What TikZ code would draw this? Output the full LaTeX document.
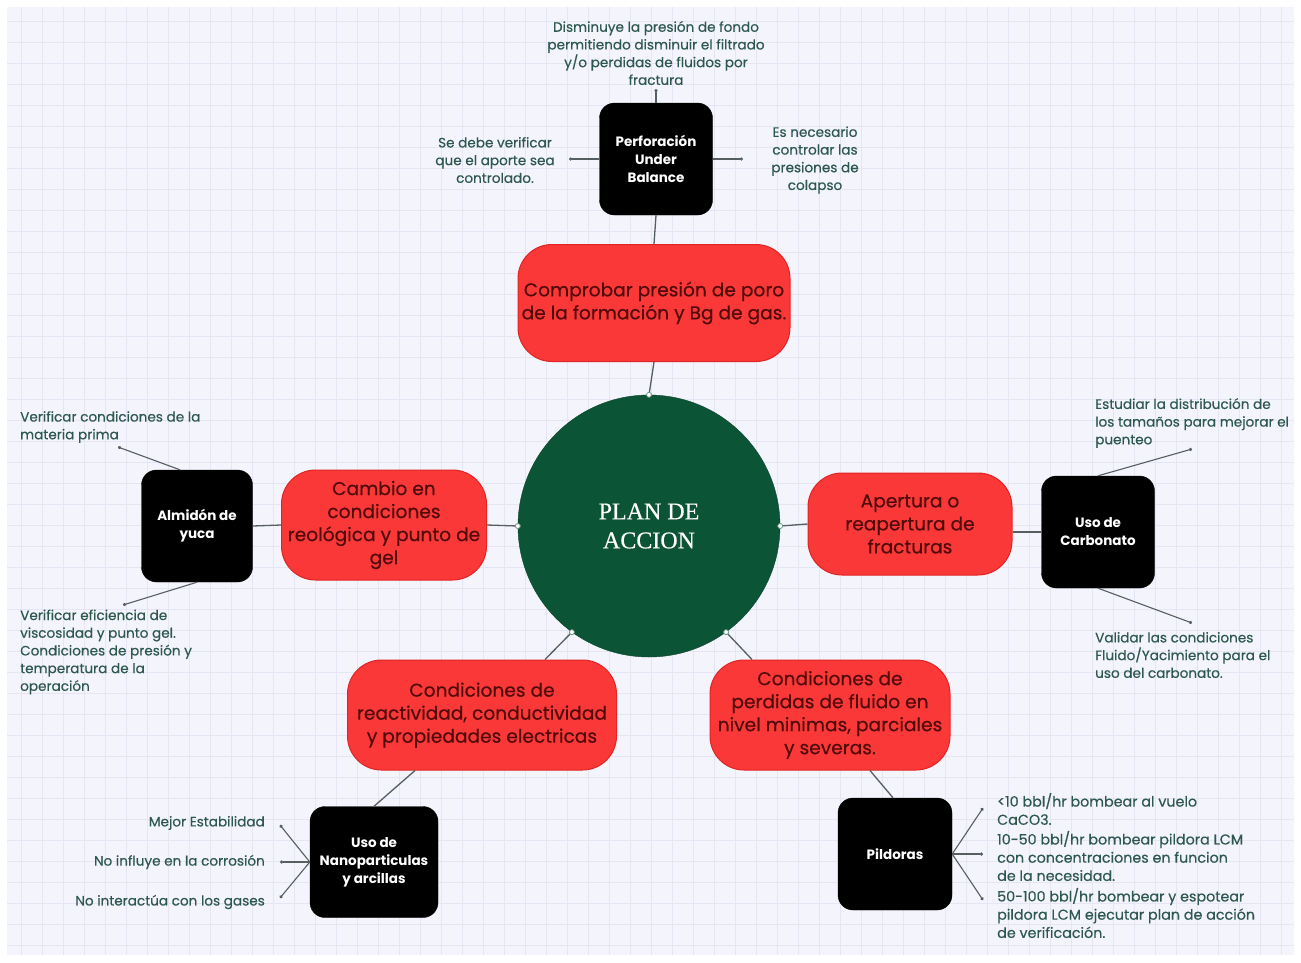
\documentclass[tikz,border=0pt]{standalone}
\usepackage{fontspec}
\setmainfont{Poppins}
\newfontfamily\medfont{Poppins}[FakeBold=0.35]
\newfontfamily\titlefont{Liberation Serif}[FakeBold=0.4]
\usetikzlibrary{arrows.meta}

\definecolor{paper}{RGB}{244,244,252}
\definecolor{gridc}{RGB}{229,229,244}
\definecolor{hubgreen}{RGB}{12,84,54}
\definecolor{topicred}{RGB}{250,56,56}
\definecolor{topicedge}{RGB}{225,35,35}
\definecolor{topictext}{RGB}{80,10,10}
\definecolor{leaftext}{RGB}{45,88,78}
\definecolor{linkc}{RGB}{85,95,95}

\tikzset{
  hub/.style={circle, fill=hubgreen, draw=hubgreen!80!black, minimum size=262pt,
    text=white, align=center, font=\titlefont\fontsize{24}{29}\selectfont},
  topic/.style={rounded corners=34pt, fill=topicred, draw=topicedge, line width=1pt,
    text=topictext, align=center, font=\medfont\fontsize{18.6}{23}\selectfont, inner sep=0pt},
  method/.style={rounded corners=15pt, fill=black, draw=black, text=white,
    align=center, font=\bfseries\fontsize{13.5}{18}\selectfont,
    minimum width=113pt, minimum height=112pt, inner sep=0pt},
  leaf/.style={text=leaftext, inner sep=0pt, font=\medfont\fontsize{13.6}{17.7}\selectfont},
  bigleaf/.style={leaf, font=\medfont\fontsize{14.3}{18.2}\selectfont},
  link/.style={draw=linkc, line width=1.3pt},
  twig/.style={draw=linkc, line width=1.1pt, -{Circle[length=3.2pt]}},
  port/.style={circle, fill=white, draw=hubgreen!60, line width=0.8pt, inner sep=0pt, minimum size=5pt}
}

\begin{document}
\begin{tikzpicture}[x=1pt, y=-1pt]
  % page and squared paper
  \useasboundingbox (0,0) rectangle (1301,962);
  \fill[white] (0,0) rectangle (1301,962);
  \fill[paper] (7,7) rectangle (1294,955);
  \draw[gridc, line width=1pt, step=21pt] (7,7) grid (1294,955);

  % hub
  \node[hub] (plan) at (649,526) {PLAN DE\\ACCION};

  % main topics
  \node[topic, minimum width=272pt, minimum height=117pt] (rtop) at (654,303)
    {Comprobar presión de poro\\de la formación y Bg de gas.};
  \node[topic, minimum width=205pt, minimum height=110pt] (rleft) at (384,525)
    {Cambio en\\condiciones\\reológica y punto de\\gel};
  \node[topic, minimum width=204pt, minimum height=102pt] (rright) at (910,524)
    {Apertura o\\reapertura de\\fracturas};
  \node[topic, minimum width=269pt, minimum height=110pt] (rll) at (482,715)
    {Condiciones de\\reactividad, conductividad\\y propiedades electricas};
  \node[topic, minimum width=240pt, minimum height=110pt] (rlr) at (830,715)
    {Condiciones de\\perdidas de fluido en\\nivel minimas, parciales\\y severas.};

  % methods
  \node[method] (perf) at (656,159) {Perforación\\Under\\Balance};
  \node[method, minimum width=111pt] (alm) at (197,526) {Almidón de\\yuca};
  \node[method] (carb) at (1098,532) {Uso de\\Carbonato};
  \node[method, minimum width=128pt, minimum height=111pt] (nano) at (374,862)
    {Uso de\\Nanoparticulas\\y arcillas};
  \node[method, minimum width=114pt] (pild) at (895,854) {Pildoras};

  % hub to topics
  \draw[link] (plan.north) -- (rtop.south);
  \draw[link] (plan.west) -- (rleft.east);
  \draw[link] (plan.east) -- (rright.west);
  \draw[link] (plan.234) -- ([xshift=63pt]rll.north);
  \draw[link] (plan.306) -- ([xshift=-78pt]rlr.north);
  \foreach \a in {90,180,0,234,306} \node[port] (p\a) at (plan.\a) {};

  % topics to methods
  \draw[link] (rtop.north) -- (perf.south);
  \draw[link] (rleft.west) -- (alm.east);
  \draw[link] (rright.east |- carb.west) -- (carb.west);
  \draw[link] ([xshift=-67pt]rll.south) -- (nano.north);
  \draw[link] ([xshift=40pt]rlr.south) -- ([xshift=-2pt]pild.north);

  % notes around "Perforación Under Balance"
  \node[leaf, align=center] (n1) at (656,53)
    {Disminuye la presión de fondo\\permitiendo disminuir el filtrado\\y/o perdidas de fluidos por\\fractura};
  \node[leaf, align=center] (n2) at (495,160)
    {Se debe verificar\\que el aporte sea\\controlado.};
  \node[leaf, align=center] (n3) at (815,160)
    {Es necesario\\controlar las\\presiones de\\colapso};
  \coordinate (e1) at (656,89);
  \coordinate (e2) at (569,159);
  \coordinate (e3) at (743,159);
  \draw[twig] (perf.north) -- (e1);
  \draw[twig] (perf.west) -- (e2);
  \draw[twig] (perf.east) -- (e3);

  % notes around "Almidón de yuca"
  \node[leaf, align=left, anchor=west] (n4) at (20,427)
    {Verificar condiciones de la\\materia prima};
  \node[leaf, align=left, anchor=west] (n5) at (20,652)
    {Verificar eficiencia de\\viscosidad y punto gel.\\Condiciones de presión y\\temperatura de la\\operación};
  \coordinate (e4) at (118,447);
  \coordinate (e5) at (123,605);
  \draw[twig] ([xshift=-17pt]alm.north) -- (e4);
  \draw[twig] (alm.south) -- (e5);

  % notes around "Uso de Carbonato"
  \node[leaf, align=left, anchor=west] (n6) at (1095,423)
    {Estudiar la distribución de\\los tamaños para mejorar el\\puenteo};
  \node[leaf, align=left, anchor=west] (n7) at (1095,655)
    {Validar las condiciones\\Fluido/Yacimiento para el\\uso del carbonato.};
  \coordinate (e6) at (1192,449);
  \coordinate (e7) at (1192,623);
  \draw[twig] (carb.north) -- (e6);
  \draw[twig] (carb.south) -- (e7);

  % notes around "Uso de Nanoparticulas y arcillas"
  \node[leaf, anchor=east] (n8) at (265,823) {Mejor Estabilidad};
  \node[leaf, anchor=east] (n9) at (265,862) {No influye en la corrosión};
  \node[leaf, anchor=east] (n10) at (265,902) {No interactúa con los gases};
  \coordinate (e8) at (280,825);
  \coordinate (e9) at (280,862);
  \coordinate (e10) at (280,898);
  \draw[twig] (nano.west) -- (e8);
  \draw[twig] (nano.west) -- (e9);
  \draw[twig] (nano.west) -- (e10);

  % notes around "Pildoras"
  \node[bigleaf, align=left, anchor=west] (n11) at (997,809)
    {<10 bbl/hr bombear al vuelo\\CaCO3.};
  \node[bigleaf, align=left, anchor=west] (n12) at (997,856)
    {10-50 bbl/hr bombear pildora LCM\\con concentraciones en funcion\\de la necesidad.};
  \node[bigleaf, align=left, anchor=west] (n13) at (997,913)
    {50-100 bbl/hr bombear y espotear\\pildora LCM ejecutar plan de acción\\de verificación.};
  \coordinate (e11) at (983,808);
  \coordinate (e12) at (983,854);
  \coordinate (e13) at (983,900);
  \draw[twig] (pild.east) -- (e11);
  \draw[twig] (pild.east) -- (e12);
  \draw[twig] (pild.east) -- (e13);
\end{tikzpicture}
\end{document}
